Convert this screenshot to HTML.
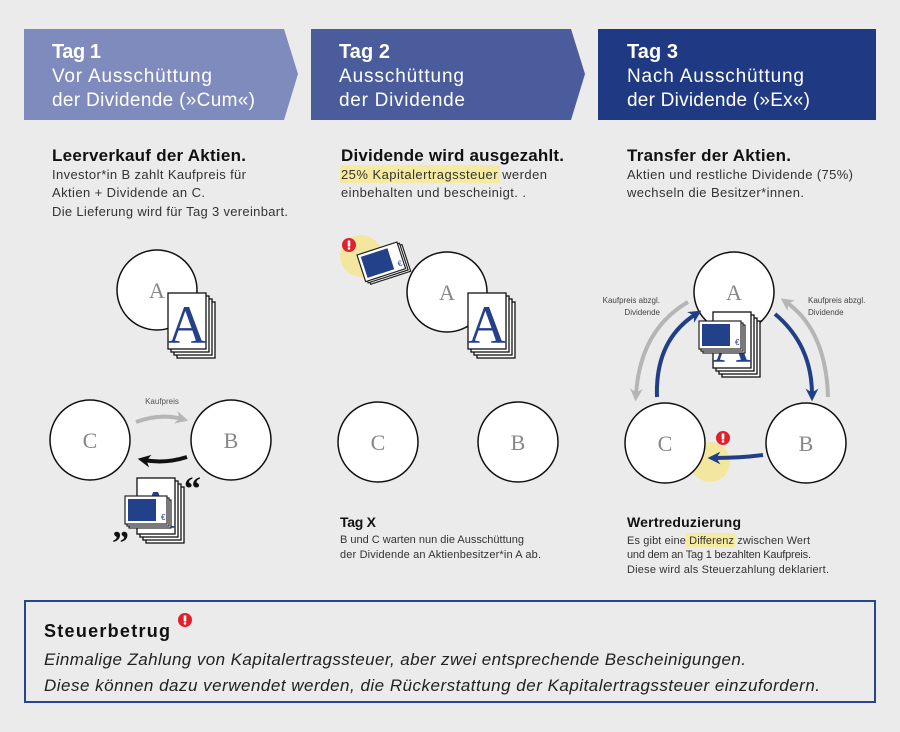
<!DOCTYPE html>
<html><head><meta charset="utf-8"><style>
html,body{margin:0;padding:0;background:#ebebeb}
svg{display:block}
text{font-family:"Liberation Sans Narrow","Liberation Sans",sans-serif}
.w{fill:#fff}
.b{font-weight:bold}
.serif{font-family:"Liberation Serif",serif}
</style></head><body>
<svg width="900" height="732" viewBox="0 0 900 732" xmlns="http://www.w3.org/2000/svg">
<defs>
<marker id="ab" viewBox="0 0 10 10" refX="5" refY="5" markerWidth="3.2" markerHeight="3.2" orient="auto"><path d="M0,0 L10,5 L0,10 L3,5z" fill="#213f86"/></marker>
<marker id="ag" viewBox="0 0 10 10" refX="5" refY="5" markerWidth="3.2" markerHeight="3.2" orient="auto"><path d="M0,0 L10,5 L0,10 L3,5z" fill="#b5b5b5"/></marker>
<marker id="ak" viewBox="0 0 10 10" refX="5" refY="5" markerWidth="3.2" markerHeight="3.2" orient="auto"><path d="M0,0 L10,5 L0,10 L3,5z" fill="#111"/></marker>
<g id="doc">
<rect x="9" y="9" width="38" height="56" fill="#fff" stroke="#111" stroke-width="1.3"/>
<rect x="6" y="6" width="38" height="56" fill="#fff" stroke="#111" stroke-width="1.3"/>
<rect x="3" y="3" width="38" height="56" fill="#fff" stroke="#111" stroke-width="1.3"/>
<rect x="0" y="0" width="38" height="56" fill="#fff" stroke="#111" stroke-width="1.3"/>
<text x="19" y="50" text-anchor="middle" font-size="54" fill="#24408a" class="serif">A</text>
</g>
<g id="money">
<rect x="4" y="4" width="42" height="28" fill="#fff" stroke="#222" stroke-width="1.2"/>
<rect x="2" y="2" width="42" height="28" fill="#fff" stroke="#222" stroke-width="1.2"/>
<rect x="0" y="0" width="42" height="28" fill="#fff" stroke="#222" stroke-width="1.2"/>
<rect x="3" y="3" width="28" height="22" fill="#23408a"/>
<text x="36" y="24" font-size="8" fill="#23408a">€</text>
</g>
<g id="alert"><circle r="7" fill="#e0202a"/><rect x="-1.3" y="-4.5" width="2.6" height="6" fill="#fff"/><circle cy="3.4" r="1.3" fill="#fff"/></g>
</defs>

<!-- headers -->
<polygon points="24,29 284,29 298,74 284,120 24,120" fill="#7f8bbd"/>
<polygon points="311,29 571,29 585,74 571,120 311,120" fill="#4a5c9c"/>
<rect x="598" y="29" width="278" height="91" fill="#1f3a82"/>
<g fill="#fff">
<text x="52" y="58" font-size="20" class="b" textLength="49">Tag 1</text>
<text x="52" y="82" font-size="19" textLength="160">Vor Ausschüttung</text>
<text x="52" y="106" font-size="19" textLength="203">der Dividende (»Cum«)</text>
<text x="339" y="58" font-size="20" class="b" textLength="51">Tag 2</text>
<text x="339" y="82" font-size="19" textLength="125">Ausschüttung</text>
<text x="339" y="106" font-size="19" textLength="126">der Dividende</text>
<text x="627" y="58" font-size="20" class="b" textLength="51">Tag 3</text>
<text x="627" y="82" font-size="19" textLength="177">Nach Ausschüttung</text>
<text x="627" y="106" font-size="19" textLength="183">der Dividende (»Ex«)</text>
</g>

<!-- section texts -->
<rect x="340" y="165" width="160" height="18" fill="#f5eaa0"/>
<g fill="#111">
<text x="52" y="161" font-size="17" class="b" textLength="194">Leerverkauf der Aktien.</text>
<text x="341" y="161" font-size="17" class="b" textLength="223">Dividende wird ausgezahlt.</text>
<text x="627" y="161" font-size="17" class="b" textLength="164">Transfer der Aktien.</text>
</g>
<g fill="#333" font-size="13">
<text x="52" y="179" textLength="194">Investor*in B zahlt Kaufpreis für</text>
<text x="52" y="197" textLength="153">Aktien + Dividende an C.</text>
<text x="52" y="216" textLength="236">Die Lieferung wird für Tag 3 vereinbart.</text>
<text x="341" y="179" textLength="206">25% Kapitalertragssteuer werden</text>
<text x="341" y="197" textLength="185">einbehalten und bescheinigt. .</text>
<text x="627" y="179" textLength="226">Aktien und restliche Dividende (75%)</text>
<text x="627" y="197" textLength="177">wechseln die Besitzer*innen.</text>
</g>

<!-- Tag 1 diagram -->
<circle cx="157" cy="290" r="40" class="w" stroke="#111" stroke-width="1.5"/>
<text x="157" y="298" text-anchor="middle" font-size="22" fill="#888" class="serif">A</text>
<use href="#doc" x="168" y="293"/>
<circle cx="90" cy="440" r="40" class="w" stroke="#111" stroke-width="1.5"/>
<text x="90" y="448" text-anchor="middle" font-size="22" fill="#888" class="serif">C</text>
<circle cx="231" cy="440" r="40" class="w" stroke="#111" stroke-width="1.5"/>
<text x="231" y="448" text-anchor="middle" font-size="22" fill="#888" class="serif">B</text>
<text x="162" y="404" text-anchor="middle" font-size="8" fill="#555">Kaufpreis</text>
<path d="M136,422 Q160,413 182,419" fill="none" stroke="#b5b5b5" stroke-width="4" marker-end="url(#ag)"/>
<path d="M187,457 Q165,464 144,460" fill="none" stroke="#111" stroke-width="4" marker-end="url(#ak)"/>
<use href="#doc" x="137" y="478"/>
<use href="#money" x="125" y="496"/>
<text x="184" y="500" font-size="34" class="b serif" fill="#111">“</text>
<text x="112" y="554" font-size="34" class="b serif" fill="#111">”</text>

<!-- Tag 2 diagram -->
<circle cx="361" cy="256" r="21" fill="#f3e7a0"/>
<use href="#money" x="0" y="0" transform="translate(357,255) rotate(-18)"/>
<use href="#alert" x="349" y="245"/>
<circle cx="447" cy="292" r="40" class="w" stroke="#111" stroke-width="1.5"/>
<text x="447" y="300" text-anchor="middle" font-size="22" fill="#888" class="serif">A</text>
<use href="#doc" x="468" y="293"/>
<circle cx="378" cy="442" r="40" class="w" stroke="#111" stroke-width="1.5"/>
<text x="378" y="450" text-anchor="middle" font-size="22" fill="#888" class="serif">C</text>
<circle cx="518" cy="442" r="40" class="w" stroke="#111" stroke-width="1.5"/>
<text x="518" y="450" text-anchor="middle" font-size="22" fill="#888" class="serif">B</text>
<text x="340" y="527" font-size="14" class="b" fill="#111" textLength="36">Tag X</text>
<text x="340" y="543" font-size="11" fill="#333" textLength="184">B und C warten nun die Ausschüttung</text>
<text x="340" y="558" font-size="11" fill="#333" textLength="201">der Dividende an Aktienbesitzer*in A ab.</text>

<!-- Tag 3 diagram -->
<circle cx="734" cy="292" r="40" class="w" stroke="#111" stroke-width="1.5"/>
<text x="734" y="300" text-anchor="middle" font-size="22" fill="#888" class="serif">A</text>
<path d="M688,302 Q640,330 636,395" fill="none" stroke="#b5b5b5" stroke-width="4" marker-end="url(#ag)"/>
<path d="M828,397 Q826,330 786,302" fill="none" stroke="#b5b5b5" stroke-width="4" marker-end="url(#ag)"/>
<path d="M657,397 Q655,340 696,314" fill="none" stroke="#213f86" stroke-width="4" marker-end="url(#ab)"/>
<path d="M775,314 Q812,345 812,395" fill="none" stroke="#213f86" stroke-width="4" marker-end="url(#ab)"/>
<use href="#doc" x="713" y="312"/>
<use href="#money" x="699" y="321"/>
<text x="660" y="303" text-anchor="end" font-size="8" fill="#444">Kaufpreis abzgl.</text>
<text x="660" y="315" text-anchor="end" font-size="8" fill="#444">Dividende</text>
<text x="808" y="303" font-size="8" fill="#444">Kaufpreis abzgl.</text>
<text x="808" y="315" font-size="8" fill="#444">Dividende</text>
<circle cx="710" cy="462" r="20" fill="#f3e7a0"/>
<circle cx="665" cy="443" r="40" class="w" stroke="#111" stroke-width="1.5"/>
<text x="665" y="451" text-anchor="middle" font-size="22" fill="#888" class="serif">C</text>
<circle cx="806" cy="443" r="40" class="w" stroke="#111" stroke-width="1.5"/>
<text x="806" y="451" text-anchor="middle" font-size="22" fill="#888" class="serif">B</text>
<path d="M763,455 Q740,458 714,458" fill="none" stroke="#213f86" stroke-width="4" marker-end="url(#ab)"/>
<use href="#alert" x="723" y="438"/>
<text x="627" y="527" font-size="14" class="b" fill="#111" textLength="114">Wertreduzierung</text>
<rect x="686" y="533" width="49" height="14" fill="#f5eaa0"/>
<text x="627" y="544" font-size="11" fill="#333" textLength="183">Es gibt eine Differenz zwischen Wert</text>
<text x="627" y="558" font-size="11" fill="#333" textLength="184">und dem an Tag 1 bezahlten Kaufpreis.</text>
<text x="627" y="573" font-size="11" fill="#333" textLength="202">Diese wird als Steuerzahlung deklariert.</text>

<!-- bottom box -->
<rect x="25" y="601" width="850" height="101" fill="none" stroke="#2a4590" stroke-width="2"/>
<text x="44" y="637" font-size="18" class="b" fill="#111" textLength="126">Steuerbetrug</text>
<use href="#alert" x="185" y="620"/>
<text x="44" y="665" font-size="17" font-style="italic" fill="#222" textLength="702">Einmalige Zahlung von Kapitalertragssteuer, aber zwei entsprechende Bescheinigungen.</text>
<text x="44" y="691" font-size="17" font-style="italic" fill="#222" textLength="776">Diese können dazu verwendet werden, die Rückerstattung der Kapitalertragssteuer einzufordern.</text>
</svg>
</body></html>
